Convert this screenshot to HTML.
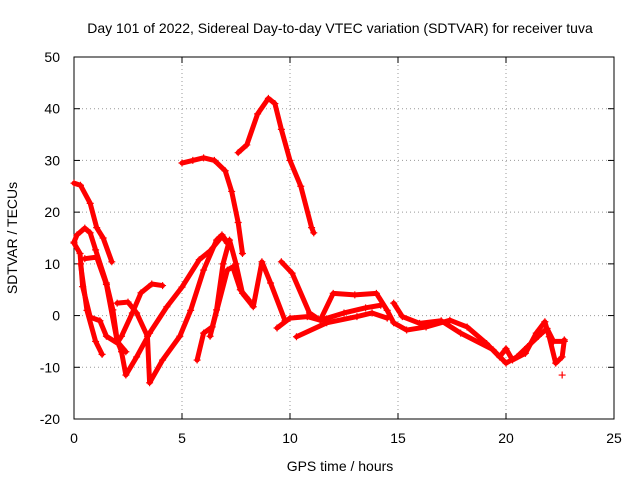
<!DOCTYPE html>
<html><head><meta charset="utf-8"><style>
html,body{margin:0;padding:0;background:#fff}
svg text{font-family:"Liberation Sans",sans-serif;font-size:14px;fill:#000}
</style></head><body>
<svg width="640" height="480" xmlns="http://www.w3.org/2000/svg">
<rect width="640" height="480" fill="#fff"/>
<g id="grid"></g>
<g id="axes"></g>
<g id="series"></g>
<text x="340" y="33" text-anchor="middle">Day 101 of 2022, Sidereal Day-to-day VTEC variation (SDTVAR) for receiver tuva</text>
<text x="340" y="471" text-anchor="middle">GPS time / hours</text>
<text x="0" y="0" text-anchor="middle" transform="translate(17,238) rotate(-90)">SDTVAR / TECUs</text>
</svg>
<script>
const xTicks=[0,5,10,15,20,25];
const yTicks=[-20,-10,0,10,20,30,40,50];
const trackA=[[0,25.6],[0.3,25.2],[0.75,21.7],[1.05,17],[1.35,15],[1.75,10.4]];
const trackB=[[0,14.2],[0.14,15.6],[0.5,16.9],[0.75,16],[1,12.7],[1.5,6.3],[1.8,1.1],[2,-4.8],[2.2,-7],[2.4,-11.5],[2.9,-8],[3.5,-3.4],[4.3,1.7],[5,5.5],[5.8,10.8],[6.3,12.5],[6.85,15.3],[7.1,14]];
const trackC=[[0,14],[0.28,12],[0.4,5.6],[0.75,-0.3],[1.2,-1],[1.5,-4],[2,-5.3],[2.2,-4],[2.7,0.5],[3.1,4.4],[3.6,6.1],[4.1,5.8]];
const trackD=[[0.5,11],[1.05,11.3],[1.5,6],[2,-5],[2.4,-7]];
const trackE=[[2,2.4],[2.5,2.6],[2.9,0.5],[3.4,-4],[3.5,-13],[4.1,-8.6],[4.9,-4],[5.4,1],[6,8.8],[6.6,14.6],[6.85,15.6],[7.1,14.2]];
const trackF=[[0.3,10],[0.6,1],[1,-5],[1.3,-7.5]];
const trackH=[[5.7,-8.6],[6,-3.4],[6.4,-2.2],[6.6,1.1],[6.9,10],[7.2,14.6],[7.5,10],[7.8,4.3],[8.3,1.7],[8.7,10.4],[9.1,6.3],[9.77,-1]];
const trackI=[[6.3,-4],[7.1,8.8],[7.35,9.4],[7.7,5],[8.1,3]];
const trackJ=[[5,29.5],[5.5,30],[6,30.5],[6.5,30],[7,28],[7.3,24],[7.6,18],[7.8,12]];
const trackK=[[7.6,31.5],[8,33],[8.5,39],[9,42],[9.3,41],[9.6,36],[10,30],[10.5,25],[11,17],[11.1,16]];
const trackL=[[9.6,10.4],[10.1,8.2],[10.9,0.5],[11.4,-0.9],[12,4.3],[13,4],[14,4.3],[14.5,1],[14.8,-1.4],[15.4,-2.8],[16.3,-2.2],[17.4,-0.9],[18.2,-2.2],[19.1,-5.4],[19.7,-8],[20,-6.4],[20.3,-8.6],[20.9,-7.3],[21.4,-3.4],[21.8,-1.2],[22,-4.1],[22.3,-9.2],[22.6,-8],[22.7,-4.7]];
const trackM=[[9.4,-2.4],[10,-0.5],[10.8,-0.2],[11.4,-0.9],[12.5,0.5],[13.5,1.5],[14.2,2]];
const trackN=[[10.3,-4.1],[11.7,-1.4],[13.1,-0.2],[13.8,0.5],[14.5,-0.5]];
const trackO=[[14.8,2.4],[15.2,-0.2],[16,-1.5],[17,-1],[17.9,-3.4],[19.4,-6.6],[20,-9.2],[20.5,-8],[21,-6],[21.5,-4],[21.9,-2.5],[22.2,-5],[22.7,-5]];
const trackQ=[[22.6,-11.5]];
const tracks=[trackA,trackB,trackC,trackD,trackE,trackF,trackH,trackI,trackJ,trackK,trackL,trackM,trackN,trackO,trackQ];
const X0=74,X1=614,Y0=419,Y1=57;
const sx=v=>X0+(v-0)/(25-0)*(X1-X0);
const sy=v=>Y0-(v+20)/(70)*(Y0-Y1);
const NS="http://www.w3.org/2000/svg";
function mk(t,a,p){const e=document.createElementNS(NS,t);for(const k in a)e.setAttribute(k,a[k]);p.appendChild(e);return e;}
const grid=document.getElementById('grid'),axes=document.getElementById('axes'),ser=document.getElementById('series');
xTicks.forEach(t=>{const x=sx(t);
 if(t>0&&t<25){const g=mk('line',{x1:x,x2:x,y1:Y1,y2:Y0,stroke:'#999','stroke-dasharray':'1,3'},grid);}
 mk('line',{x1:x,x2:x,y1:Y0,y2:Y0-6,stroke:'#000'},axes);mk('line',{x1:x,x2:x,y1:Y1,y2:Y1+6,stroke:'#000'},axes);
 const l=mk('text',{x:x,y:Y0+24,'text-anchor':'middle'},axes);l.textContent=t;
 });
yTicks.forEach(t=>{const y=sy(t);
 if(t>-20&&t<50){const g=mk('line',{x1:X0,x2:X1,y1:y,y2:y,stroke:'#999','stroke-dasharray':'1,3'},grid);}
 mk('line',{x1:X0,x2:X0+6,y1:y,y2:y,stroke:'#000'},axes);mk('line',{x1:X1,x2:X1-6,y1:y,y2:y,stroke:'#000'},axes);
 const l=mk('text',{x:X0-14,y:y+5,'text-anchor':'end'},axes);l.textContent=t;
 });
const fr=mk('rect',{x:X0,y:Y1,width:X1-X0,height:Y0-Y1,fill:'none',stroke:'#000'},axes);

tracks.forEach(tr=>{
 const pts=tr.map(p=>sx(p[0])+','+sy(p[1])).join(' ');
 const pl=mk('polyline',{points:pts,fill:'none',stroke:'#f00','stroke-width':5,'stroke-linejoin':'round','stroke-linecap':'round'},ser);
 
 
 tr.forEach(p=>{const x=sx(p[0]),y=sy(p[1]);
  const m=mk('path',{d:`M${x-3.5},${y}H${x+3.5}M${x},${y-3.5}V${y+3.5}`,stroke:'#f00','stroke-width':1.2},ser);
  
  });
});
</script>
</body></html>
